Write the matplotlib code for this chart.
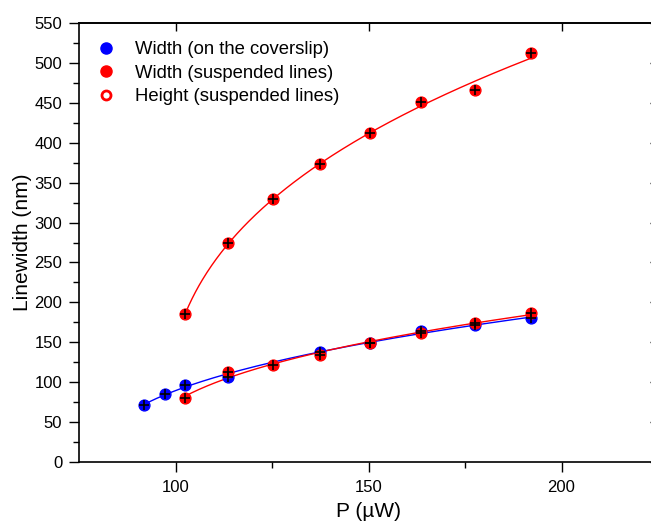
import numpy as np
import matplotlib
matplotlib.use("Agg")
import matplotlib.pyplot as plt

plt.rcParams['font.family'] = ['Liberation Sans', 'DejaVu Sans']

# Data
p_cover = [91.8, 97.3, 102.5, 113.7, 137.4, 150.3, 163.6, 177.6, 192.1]
w_cover = [71, 85, 97, 107, 138, 149, 164, 172, 180]

p_susp = [102.5, 113.7, 125.3, 137.4, 150.3, 163.6, 177.6, 192.1]
w_susp = [80, 113, 122, 134, 149, 162, 174, 187]
h_susp = [185, 275, 330, 373, 412, 451, 466, 512]

labels = ["Width (on the coverslip)", "Width (suspended lines)", "Height (suspended lines)"]
xticks = [100, 150, 200]
yticks = list(range(0, 551, 50))


def fit_curve(x, y):
    x = np.asarray(x, float)
    y = np.asarray(y, float)
    best = None
    for x0 in np.linspace(0, x.min() - 0.5, 400):
        lx = np.log(x - x0)
        b, la = np.polyfit(lx, np.log(y), 1)
        pred = np.exp(la) * (x - x0) ** b
        sse = np.sum((pred - y) ** 2)
        if best is None or sse < best[0]:
            best = (sse, x0, la, b)
    _, x0, la, b = best
    xs = np.linspace(x.min(), x.max(), 300)
    return xs, np.exp(la) * (xs - x0) ** b


fig = plt.figure(figsize=(6.51, 5.23), dpi=100)
ax = fig.add_axes([79 / 651, 61 / 523, 579 / 651, 439 / 523])

blue = '#0000ff'
red = '#ff0000'

xs, ys = fit_curve(p_cover, w_cover)
ax.plot(xs, ys, color=blue, lw=1.0, zorder=2)
xs, ys = fit_curve(p_susp, w_susp)
ax.plot(xs, ys, color=red, lw=1.0, zorder=2)
xs, ys = fit_curve(p_susp, h_susp)
ax.plot(xs, ys, color=red, lw=1.0, zorder=2)

ms = 7.8
h1, = ax.plot(p_cover, w_cover, 'o', color=blue, ms=ms, mec=blue, lw=0, zorder=3, label=labels[0])
h2, = ax.plot(p_susp, w_susp, 'o', color=red, ms=ms, mec=red, lw=0, zorder=4, label=labels[1])
ax.plot(p_susp, h_susp, 'o', color=red, ms=ms, mec=red, lw=0, zorder=4)
for px, py in [(p_cover, w_cover), (p_susp, w_susp), (p_susp, h_susp)]:
    ax.plot(px, py, '+', color='black', ms=6.5, mew=1.2, lw=0, zorder=5)

h3, = ax.plot([], [], 'o', mfc='white', mec=red, mew=2, ms=6.5, lw=0, label=labels[2])

leg = ax.legend(handles=[h1, h2, h3], loc='upper left', frameon=False, fontsize=13.3,
                handletextpad=0.75, labelspacing=0.35, borderaxespad=0.0,
                bbox_to_anchor=(0.009, 0.975), markerscale=1.0, handlelength=1.6)
for h in leg.legend_handles[:2]:
    h.set_markersize(8)

ax.set_xlim(75, 225)
ax.set_ylim(0, 550)
ax.set_xticks(xticks)
ax.set_yticks(yticks)
ax.set_xticks([125, 175], minor=True)
ax.set_yticks(list(range(25, 550, 50)), minor=True)
ax.tick_params(which='major', direction='out', length=7, width=1, labelsize=12, colors='black')
ax.tick_params(which='minor', direction='out', length=4, width=1)
ax.tick_params(axis='x', pad=6)
ax.tick_params(axis='y', pad=5)

sec_x = ax.secondary_xaxis('top')
sec_x.set_xticks(xticks)
sec_x.tick_params(direction='in', length=6, width=1, labeltop=False)
sec_y = ax.secondary_yaxis('right')
sec_y.set_yticks(yticks)
sec_y.tick_params(direction='in', length=6, width=1, labelright=False)

for s in list(ax.spines.values()) + list(sec_x.spines.values()) + list(sec_y.spines.values()):
    s.set_linewidth(1.2)

ax.set_xlabel('P (\u00b5W)', fontsize=15, labelpad=5)
ax.set_ylabel('Linewidth (nm)', fontsize=15, labelpad=2)

fig.savefig('out.png', dpi=100)
